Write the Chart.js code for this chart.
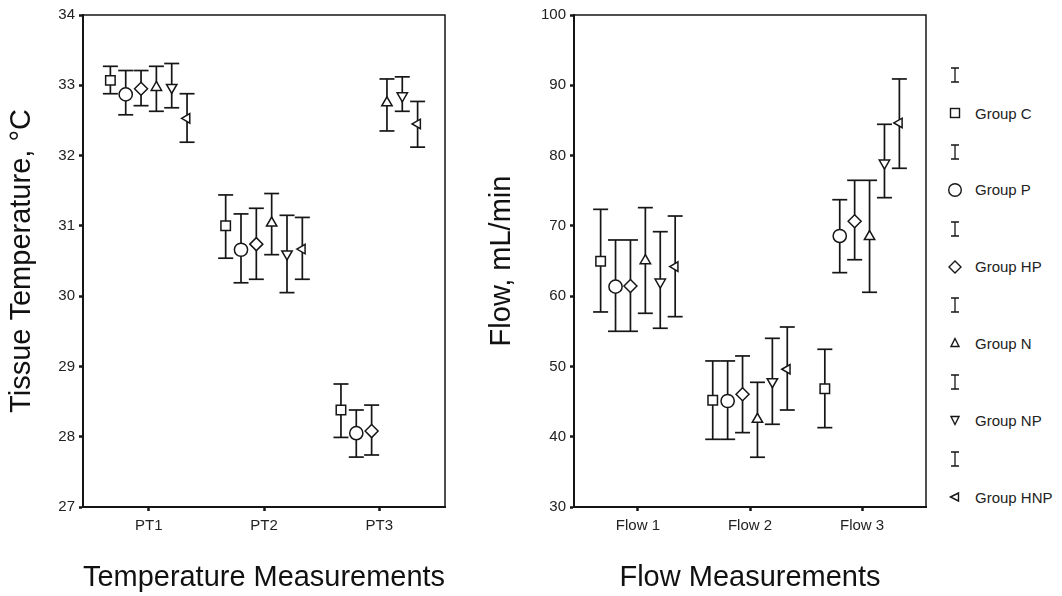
<!DOCTYPE html>
<html>
<head>
<meta charset="utf-8">
<script src="https://cdn.jsdelivr.net/npm/chart.js@4.4.0/dist/chart.umd.min.js"></script>
<style>
  body { margin: 0; background: #fff; width: 1062px; height: 596px; overflow: hidden; position: relative; font-family: Arial, "Liberation Sans", sans-serif; }
  .box { position: absolute; top: 0; width: 460px; height: 596px; }
  #leftBox { left: 0; }
  #rightBox { left: 480px; }
  .legItem { position: absolute; display: flex; align-items: center; font-size: 15px; color: #222; white-space: nowrap; }
  .legItem svg { display: block; }
</style>
</head>
<body>
<div id="leftBox" class="box"><canvas id="tempChart" width="460" height="596"></canvas></div>
<div id="rightBox" class="box"><canvas id="flowChart" width="460" height="596"></canvas></div>
<div id="legend"></div>
<script>
const groups = ['Group C', 'Group P', 'Group HP', 'Group N', 'Group NP', 'Group HNP'];
const tempLabels = ['PT1', 'PT2', 'PT3'];
const flowLabels = ['Flow 1', 'Flow 2', 'Flow 3'];

// one row per group, one column per measurement
const tempMean = [
    [33.07, 31.00, 28.38],
    [32.87, 30.66, 28.05],
    [32.95, 30.74, 28.08],
    [32.97, 31.04, 32.75],
    [32.97, 30.60, 32.85],
    [32.53, 30.67, 32.45]
];
const tempHigh = [
    [33.27, 31.44, 28.75],
    [33.21, 31.17, 28.38],
    [33.21, 31.25, 28.45],
    [33.27, 31.46, 33.09],
    [33.31, 31.15, 33.12],
    [32.88, 31.12, 32.77]
];
const tempLow = [
    [32.88, 30.54, 27.99],
    [32.58, 30.19, 27.71],
    [32.71, 30.24, 27.74],
    [32.63, 30.59, 32.35],
    [32.68, 30.05, 32.63],
    [32.19, 30.24, 32.12]
];

const flowMean = [
    [64.96, 45.18, 46.84],
    [61.35, 45.08, 68.56],
    [61.45, 46.04, 70.65],
    [65.05, 42.48, 68.47],
    [62.00, 47.83, 78.94],
    [64.20, 49.60, 84.64]
];
const flowHigh = [
    [72.35, 50.78, 52.44],
    [67.99, 50.78, 73.72],
    [67.99, 51.49, 76.48],
    [72.59, 47.74, 76.48],
    [69.17, 54.00, 84.45],
    [71.40, 55.61, 90.90]
];
const flowLow = [
    [57.75, 39.63, 41.29],
    [55.00, 39.63, 63.34],
    [55.00, 40.58, 65.18],
    [57.56, 37.08, 60.55],
    [55.43, 41.77, 74.01],
    [57.08, 43.80, 78.19]
];

const ink = '#161616';
const markerStyles = ['rect', 'circle', 'rectRot', 'triangle', 'triangle', 'triangle'];
const markerRotation = [0, 0, 0, 0, 180, -90];
const markerRadius = [6.7, 6.6, 6.5, 6, 6, 5.5];
const groupShift = 0.133;

const frame = {
    id: 'frame',
    beforeDatasetsDraw(chart) {
        const { ctx, chartArea: a } = chart;
        ctx.save();
        ctx.strokeStyle = ink;
        ctx.lineWidth = 1.5;
        ctx.strokeRect(a.left, a.top, a.right - a.left, a.bottom - a.top);
        ctx.restore();
    }
};

function buildDatasets(mean, high, low) {
    const markers = [];
    const bars = [];
    groups.forEach((name, g) => {
        const off = (g - 2.5) * groupShift;
        markers.push({
            label: name,
            data: mean[g].map((v, j) => ({ x: j + 1 + off, y: v })),
            pointStyle: markerStyles[g],
            rotation: markerRotation[g],
            pointRadius: markerRadius[g],
            pointBackgroundColor: '#fff',
            pointBorderColor: ink,
            pointBorderWidth: 1.5,
            showLine: false
        });
        const pts = [];
        mean[g].forEach((v, j) => {
            pts.push({ x: j + 1 + off, y: low[g][j] });
            pts.push({ x: j + 1 + off, y: high[g][j] });
            pts.push({ x: j + 1 + off, y: null });
        });
        bars.push({
            label: name + ' range',
            data: pts,
            showLine: true,
            spanGaps: false,
            borderColor: ink,
            borderWidth: 1.7,
            pointStyle: 'line',
            pointRadius: 7.5,
            pointBorderColor: ink,
            pointBorderWidth: 1.7
        });
    });
    // markers first so they are painted above the bars
    return markers.concat(bars);
}

function makeChart(id, labels, mean, high, low, yMin, yMax, yStep, yTitle, xTitle, yWidth, padRight) {
    return new Chart(document.getElementById(id).getContext('2d'), {
        type: 'scatter',
        data: { datasets: buildDatasets(mean, high, low) },
        options: {
            responsive: false,
            animation: false,
            layout: { padding: { top: 15, right: padRight, bottom: 0, left: 0 } },
            plugins: { legend: { display: false }, tooltip: { enabled: false } },
            scales: {
                x: {
                    type: 'linear',
                    min: 0.43,
                    max: 3.57,
                    afterBuildTicks: s => { s.ticks = [1, 2, 3].map(v => ({ value: v })); },
                    afterFit: s => { s.height = 89; },
                    ticks: {
                        callback: v => labels[Math.round(v) - 1],
                        font: { size: 15, family: 'Arial, "Liberation Sans"' },
                        color: '#222',
                        padding: 6,
                        maxRotation: 0
                    },
                    grid: { drawOnChartArea: false, drawTicks: true, tickLength: 4, tickWidth: 2.5, tickColor: ink },
                    border: { display: true, color: ink, width: 2 },
                    title: {
                        display: true,
                        text: xTitle,
                        color: '#111',
                        font: { size: 29, family: 'Arial, "Liberation Sans"' },
                        padding: { top: 0, bottom: 1 }
                    }
                },
                y: {
                    min: yMin,
                    max: yMax,
                    afterFit: s => { s.width = yWidth; },
                    ticks: {
                        stepSize: yStep,
                        font: { size: 15, family: 'Arial, "Liberation Sans"' },
                        color: '#222',
                        padding: 4
                    },
                    grid: { drawOnChartArea: false, drawTicks: true, tickLength: 4, tickWidth: 2.5, tickColor: ink },
                    border: { display: true, color: ink, width: 2 },
                    title: {
                        display: true,
                        text: yTitle,
                        color: '#111',
                        font: { size: 29, family: 'Arial, "Liberation Sans"' },
                        padding: { top: 5, bottom: 0 }
                    }
                }
            }
        },
        plugins: [frame]
    });
}

makeChart('tempChart', tempLabels, tempMean, tempHigh, tempLow, 27, 34, 1,
    'Tissue Temperature, \u00B0C', 'Temperature Measurements', 83, 15);
makeChart('flowChart', flowLabels, flowMean, flowHigh, flowLow, 30, 100, 10,
    'Flow, mL/min', 'Flow Measurements', 94, 14);

// legend: an error-bar glyph above each group marker
const legendEl = document.getElementById('legend');
const svgNS = 'http://www.w3.org/2000/svg';
function glyph(kind) {
    const s = '<svg xmlns="' + svgNS + '" width="18" height="18" viewBox="-9 -9 18 18" fill="#fff" stroke="' + ink + '" stroke-width="1.4">';
    const shapes = {
        bar: '<path d="M-4 -7H4M0 -7V7M-4 7H4" fill="none" stroke-width="1.3"/>',
        rect: '<rect x="-4.5" y="-4.5" width="9" height="9"/>',
        circle: '<circle cx="0" cy="0" r="6.3"/>',
        diamond: '<path d="M0 -6L6 0L0 6L-6 0Z"/>',
        up: '<path d="M0 -4.5L4 3.5H-4Z"/>',
        down: '<path d="M0 4.5L4 -3.5H-4Z"/>',
        left: '<path d="M-4.5 0L3.5 -4V4Z"/>'
    };
    return s + shapes[kind] + '</svg>';
}
const legendShapes = ['rect', 'circle', 'diamond', 'up', 'down', 'left'];
groups.forEach((name, g) => {
    const yMark = 113 + g * 76.8;
    const bar = document.createElement('div');
    bar.className = 'legItem';
    bar.style.left = '946px';
    bar.style.top = (yMark - 38 - 9) + 'px';
    bar.innerHTML = glyph('bar');
    legendEl.appendChild(bar);

    const item = document.createElement('div');
    item.className = 'legItem';
    item.style.left = '946px';
    item.style.top = (yMark - 11) + 'px';
    item.style.height = '22px';
    item.innerHTML = glyph(legendShapes[g]) + '<span style="margin-left:11px">' + name + '</span>';
    legendEl.appendChild(item);
});
</script>
</body>
</html>
